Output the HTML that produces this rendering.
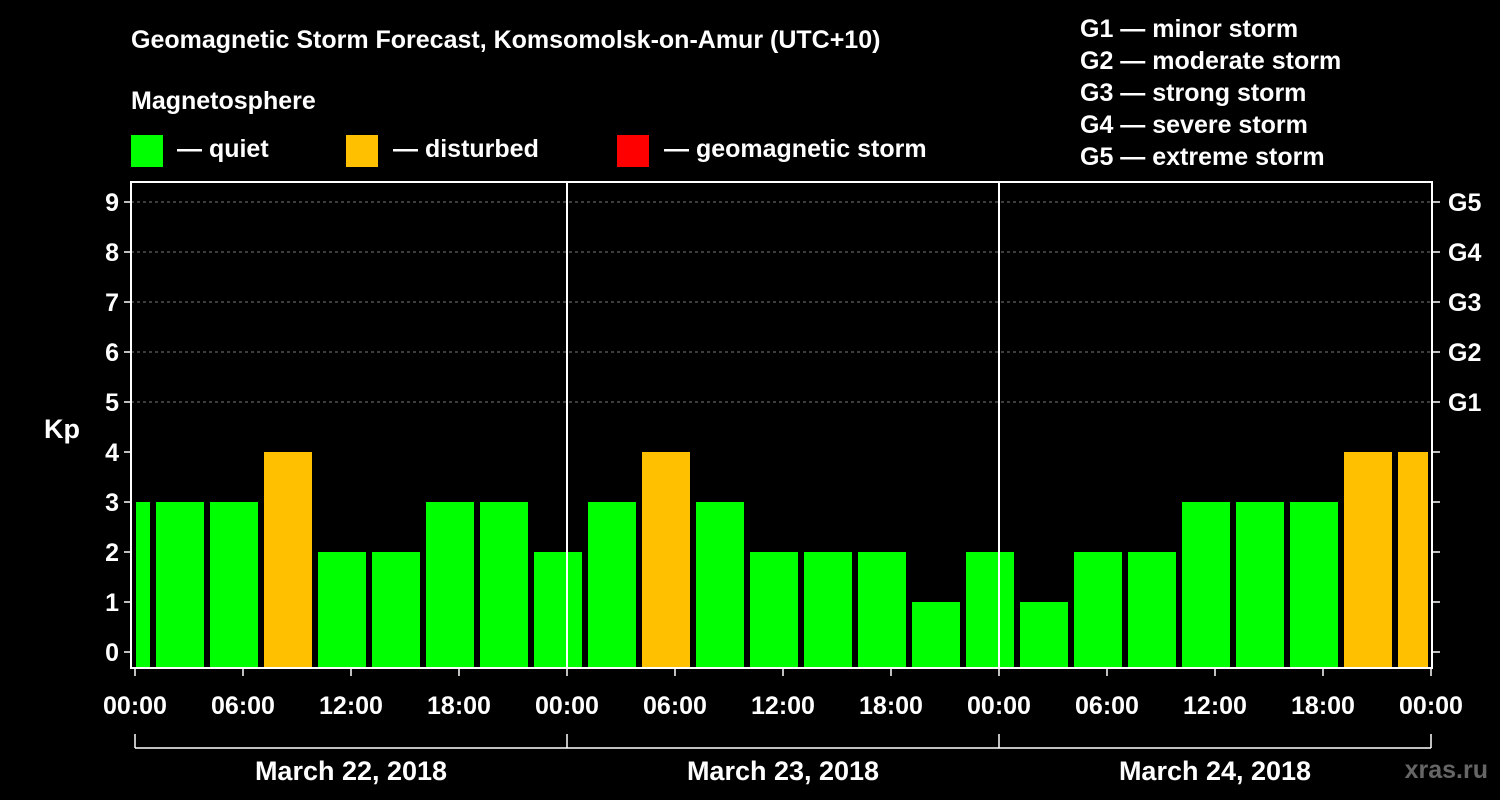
<!DOCTYPE html>
<html><head><meta charset="utf-8"><style>
html,body{margin:0;padding:0;background:#000;}
svg{display:block;font-family:"Liberation Sans",Arial,sans-serif;font-weight:bold;}
</style></head><body>
<svg id="chart" width="1500" height="800" viewBox="0 0 1500 800" xmlns="http://www.w3.org/2000/svg">
<rect width="1500" height="800" fill="#000"/>
<text x="131" y="48" fill="#fff" font-size="25">Geomagnetic Storm Forecast, Komsomolsk-on-Amur (UTC+10)</text>
<text x="131" y="109" fill="#fff" font-size="25">Magnetosphere</text>
<g><rect x="131" y="135" width="32" height="32" fill="#00ff00"/><text x="177" y="157" fill="#fff" font-size="25">— quiet</text></g>
<g><rect x="346" y="135" width="32" height="32" fill="#ffc000"/><text x="393" y="157" fill="#fff" font-size="25">— disturbed</text></g>
<g><rect x="617" y="135" width="32" height="32" fill="#ff0000"/><text x="664" y="157" fill="#fff" font-size="25">— geomagnetic storm</text></g>
<g fill="#fff" font-size="25">
<text x="1080" y="37">G1 — minor storm</text><text x="1080" y="69">G2 — moderate storm</text><text x="1080" y="101">G3 — strong storm</text><text x="1080" y="133">G4 — severe storm</text><text x="1080" y="165">G5 — extreme storm</text>
</g>
<g id="grid"></g><g id="bars"></g><g id="axes"></g>
<text x="62" y="438" fill="#fff" font-size="27" text-anchor="middle">Kp</text>
<text x="1488" y="778" fill="#666" font-size="25" text-anchor="end">xras.ru</text>
</svg>
<script>
const values=[3,3,3,4,2,2,3,3,2,3,4,3,2,2,2,1,2,1,2,2,3,3,3,4,4];
const yTicks=[0,1,2,3,4,5,6,7,8,9];
const gLabels=["G1","G2","G3","G4","G5"];
const xLabels=["00:00","06:00","12:00","18:00","00:00","06:00","12:00","18:00","00:00","06:00","12:00","18:00","00:00"];
const days=["March 22, 2018","March 23, 2018","March 24, 2018"];
const NS="http://www.w3.org/2000/svg";
const L=131,R=1432,T=182,B=668,X0=135,PXH=18;
const xs=h=>X0+h*PXH, ys=v=>652-v*50;
function mk(tag,a,p){const e=document.createElementNS(NS,tag);for(const k in a)e.setAttribute(k,a[k]);p.appendChild(e);return e;}
const grid=document.getElementById('grid'),bars=document.getElementById('bars'),axes=document.getElementById('axes');
yTicks.forEach(v=>{if(v>=5){const l=mk('line',{x1:L,x2:R,y1:ys(v),y2:ys(v),stroke:'#777','stroke-dasharray':'3,3'},grid);

}});
values.forEach((v,i)=>{const c=xs(i*3-0.5);let x1=Math.max(c-24,L+5),x2=Math.min(c+24,R-4);
const r=mk('rect',{x:x1,y:ys(v),width:x2-x1,height:B-1-ys(v),fill:v>=5?'#ff0000':v>=4?'#ffc000':'#00ff00'},bars);

});
mk('rect',{x:L,y:T,width:R-L,height:B-T,fill:'none',stroke:'#fff','stroke-width':2},axes);
[1,2].forEach(d=>{const l=mk('line',{x1:xs(d*24),x2:xs(d*24),y1:T,y2:B,stroke:'#fff','stroke-width':2},axes);

});
yTicks.forEach(v=>{mk('line',{x1:L-7,x2:L,y1:ys(v),y2:ys(v),stroke:'#fff','stroke-width':1.5},axes);
mk('line',{x1:R,x2:R+8,y1:ys(v),y2:ys(v),stroke:'#fff','stroke-width':1.5},axes);
const t=mk('text',{x:L-12,y:ys(v)+9,fill:'#fff','font-size':25,'text-anchor':'end'},axes);t.textContent=v;

});
gLabels.forEach((g,i)=>{const t=mk('text',{x:1448,y:ys(i+5)+9,fill:'#fff','font-size':25},axes);t.textContent=g;

});
xLabels.forEach((s,i)=>{const x=xs(i*6);mk('line',{x1:x,x2:x,y1:B,y2:B+8,stroke:'#fff','stroke-width':1.5},axes);
const t=mk('text',{x:x,y:714,fill:'#fff','font-size':25,'text-anchor':'middle'},axes);t.textContent=s;

});
mk('line',{x1:xs(0),x2:xs(72),y1:748,y2:748,stroke:'#fff','stroke-width':1.5},axes);
[0,1,2,3].forEach(d=>mk('line',{x1:xs(d*24),x2:xs(d*24),y1:734,y2:748,stroke:'#fff','stroke-width':1.5},axes));
days.forEach((s,i)=>{const t=mk('text',{x:xs(i*24+12),y:780,fill:'#fff','font-size':27,'text-anchor':'middle'},axes);t.textContent=s;

});
</script>
</body></html>
